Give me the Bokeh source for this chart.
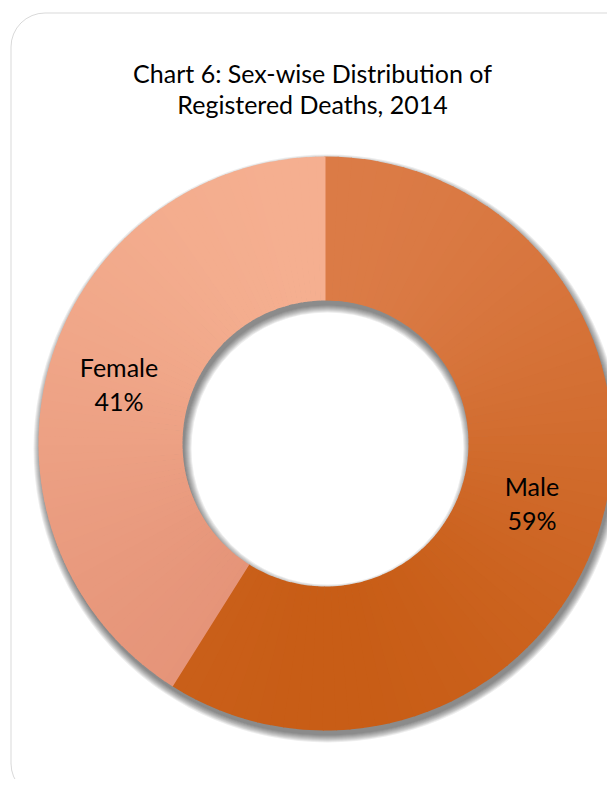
import math
from bokeh.plotting import figure
from bokeh.models import Range1d, BoxAnnotation
from bokeh.core.properties import value
from bokeh.embed import file_html
from bokeh.resources import INLINE

# ---- data ----
categories = ["Male", "Female"]
shares = [59, 41]
title_lines = ["Chart 6: Sex-wise Distribution of", "Registered Deaths, 2014"]

# ---- styling ----
H = 787
top_colors = {"Male": (219, 123, 70), "Female": (245, 175, 144)}
bot_colors = {"Male": (200, 93, 22), "Female": (228, 146, 119)}
FONT = "Lato"

p = figure(width=607, height=779, output_backend="svg", toolbar_location=None,
           x_range=Range1d(0, 607), y_range=Range1d(8, 787), min_border=0)
p.axis.visible = False
p.grid.visible = False
p.outline_line_color = None
p.background_fill_color = "white"

# rounded frame
p.add_layout(BoxAnnotation(left=10.5, right=660, top=H - 12.5, bottom=-10,
                           border_radius=34, fill_alpha=0,
                           line_color="#808080", line_width=1))

cx, cy = 325, H - 443
r_out, r_in = 287, 143

# soft shadow (offset down)
sx, sy = cx + 2, cy - 5
for k in range(0, 8):
    p.annular_wedge(x=sx, y=sy, inner_radius=r_in - k, outer_radius=r_out + k,
                    start_angle=0, end_angle=2 * math.pi,
                    fill_color="black", fill_alpha=0.07, line_color=None)

total = sum(shares)
angle = math.pi / 2  # start at 12 o'clock, go clockwise
label_pos = []
for cat, v in zip(categories, shares):
    sweep = 2 * math.pi * v / total
    a_start = angle - sweep
    n = 80
    for i in range(n):
        a0 = a_start + sweep * i / n
        a1 = a_start + sweep * (i + 1) / n
        am = (a0 + a1) / 2
        t = (1 - math.sin(am)) / 2  # 0 at top, 1 at bottom
        c0, c1 = top_colors[cat], bot_colors[cat]
        col = tuple(int(round(c0[j] + (c1[j] - c0[j]) * t)) for j in range(3))
        hexc = "#%02x%02x%02x" % col
        p.annular_wedge(x=cx, y=cy, inner_radius=r_in, outer_radius=r_out,
                        start_angle=a0, end_angle=a1 + 0.004,
                        fill_color=hexc, line_color=None)
    mid = angle - sweep / 2
    rm = (r_in + r_out) / 2
    label_pos.append((cx + rm * math.cos(mid), cy + rm * math.sin(mid)))
    angle = a_start

for cat, v, (lx, ly) in zip(categories, shares, label_pos):
    p.text(x=[lx], y=[ly + 17], text=[cat], text_align="center", text_baseline="middle",
           text_font=value(FONT), text_font_size="25px", text_color="black")
    p.text(x=[lx], y=[ly - 17], text=["%d%%" % v], text_align="center", text_baseline="middle",
           text_font=value(FONT), text_font_size="25px", text_color="black")

p.text(x=[312], y=[H - 72], text=[title_lines[0]], text_align="center", text_baseline="middle",
       text_font=value(FONT), text_font_size="25px", text_color="black")
p.text(x=[312], y=[H - 103], text=[title_lines[1]], text_align="center", text_baseline="middle",
       text_font=value(FONT), text_font_size="25px", text_color="black")

open("out.html", "w").write(file_html(p, INLINE))
